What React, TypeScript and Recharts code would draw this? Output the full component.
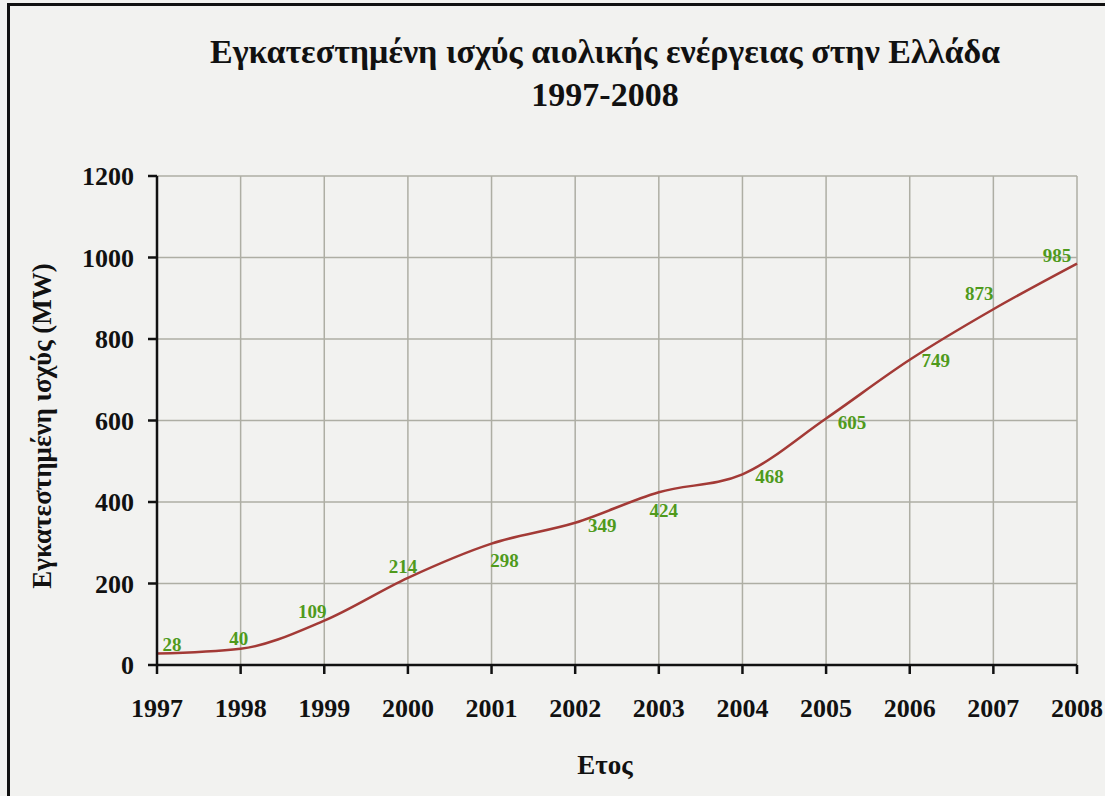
import React from 'react';
import { LineChart, Line, XAxis, YAxis, CartesianGrid } from 'recharts';

// Installed wind capacity in Greece (MW)
const YEARS = [1997, 1998, 1999, 2000, 2001, 2002, 2003, 2004, 2005, 2006, 2007, 2008];
const CAPACITY_MW = [28, 40, 109, 214, 298, 349, 424, 468, 605, 749, 873, 985];
const Y_TICKS = [0, 200, 400, 600, 800, 1000, 1200];

const TITLE = 'Εγκατεστημένη ισχύς αιολικής ενέργειας στην Ελλάδα';
const SUBTITLE = '1997-2008';
const Y_LABEL = 'Εγκατεστημένη ισχύς (MW)';
const X_LABEL = 'Ετος';

// where each value label sits relative to its point (dx, dy of the text centre)
const LABEL_OFFSETS: [number, number][] = [
    [15, -9], [-2, -10], [-12, -9], [-5, -11], [13, 17], [27, 3],
    [5, 18], [27, 2], [26, 4], [26, 1], [-14, -16], [-20, -8],
];

const data = YEARS.map((year, i) => ({ year, mw: CAPACITY_MW[i] }));

const SERIF = '"Liberation Serif", "Times New Roman", serif';
const TICK_STYLE = { fill: '#111', fontSize: 26, fontWeight: 700, fontFamily: SERIF };

const ValueLabel = (props: any) => {
    const { x, y, value, index } = props;
    const [dx, dy] = LABEL_OFFSETS[index] || [0, -10];
    return (
        <text
            x={x + dx}
            y={y + dy}
            textAnchor="middle"
            dominantBaseline="central"
            fill="#4f9a1c"
            fontSize={19}
            fontWeight={700}
            fontFamily={SERIF}
        >
            {value}
        </text>
    );
};

export default function App() {
    return (
        <div style={{ position: 'absolute', left: 0, top: 0, width: 1105, height: 796, background: '#f2f2f0', overflow: 'hidden', fontFamily: SERIF }}>
            {/* frame of the figure, open to the right and bottom */}
            <div style={{ position: 'absolute', left: 7, top: 3, width: 1200, height: 900, borderLeft: '3px solid #111', borderTop: '3px solid #111' }} />

            <div style={{ position: 'absolute', left: 0, top: 30, width: 1210, textAlign: 'center', fontSize: 34, fontWeight: 700, color: '#111', lineHeight: '43px' }}>
                {TITLE}
                <br />
                {SUBTITLE}
            </div>

            <div style={{ position: 'absolute', left: 42, top: 426, transform: 'translate(-50%, -50%) rotate(-90deg)', whiteSpace: 'nowrap', fontSize: 27, fontWeight: 700, color: '#111' }}>
                {Y_LABEL}
            </div>

            <div style={{ position: 'absolute', left: 605, top: 765, transform: 'translate(-50%, -50%)', fontSize: 27, fontWeight: 700, color: '#111' }}>
                {X_LABEL}
            </div>

            <div style={{ position: 'absolute', left: 0, top: 0 }}>
                <LineChart width={1105} height={796} data={data} margin={{ top: 176, right: 28, bottom: 0, left: 0 }}>
                    <CartesianGrid stroke="#aeaea4" strokeWidth={1.5} horizontalValues={Y_TICKS} verticalValues={YEARS} />
                    <XAxis
                        dataKey="year"
                        type="number"
                        domain={[1997, 2008]}
                        ticks={YEARS}
                        interval={0}
                        height={131}
                        axisLine={{ stroke: '#111', strokeWidth: 2.5 }}
                        tickLine={{ stroke: '#111', strokeWidth: 2.5 }}
                        tickSize={9}
                        tickMargin={25}
                        tick={TICK_STYLE}
                    />
                    <YAxis
                        type="number"
                        domain={[0, 1200]}
                        ticks={Y_TICKS}
                        interval={0}
                        width={157}
                        axisLine={{ stroke: '#111', strokeWidth: 2.5 }}
                        tickLine={{ stroke: '#111', strokeWidth: 2.5 }}
                        tickSize={9}
                        tickMargin={14}
                        tick={TICK_STYLE}
                    />
                    <Line
                        type="monotone"
                        dataKey="mw"
                        stroke="#a33a36"
                        strokeWidth={2.5}
                        dot={false}
                        activeDot={false}
                        label={ValueLabel}
                        isAnimationActive={false}
                    />
                </LineChart>
            </div>
        </div>
    );
}
